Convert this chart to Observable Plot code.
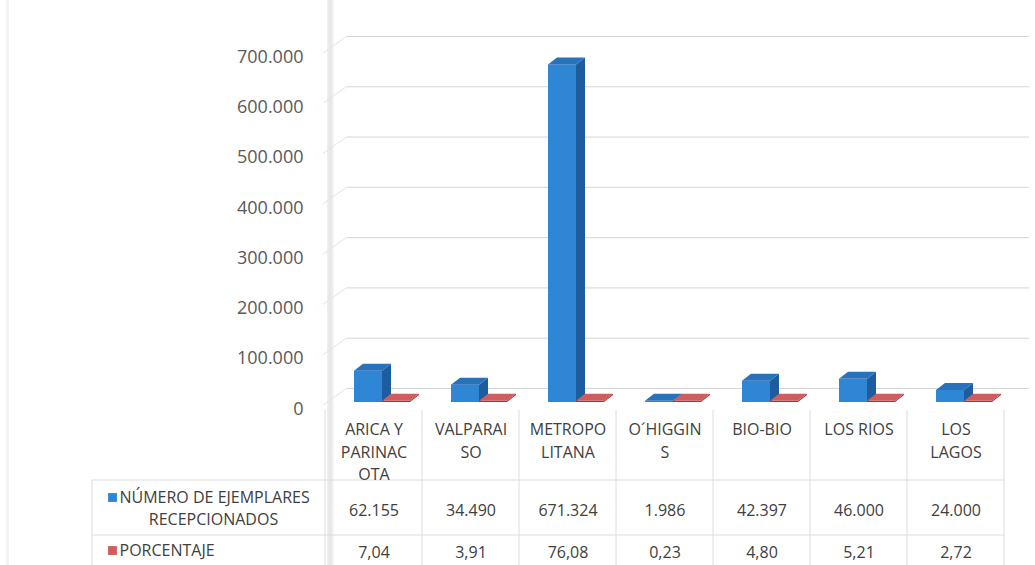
<!DOCTYPE html>
<html><head><meta charset="utf-8">
<script src="https://cdn.jsdelivr.net/npm/d3@7"></script>
<script src="https://cdn.jsdelivr.net/npm/@observablehq/plot@0.6"></script>
<style>
html,body{margin:0;padding:0;background:#fff;}
#chart{position:relative;width:1035px;height:565px;overflow:hidden;
background:linear-gradient(to right, transparent 6px, #f3f3f3 6px, #f3f3f3 9px, transparent 9px, transparent 327px, #f0f0f0 327px, #e6e6e6 330px, #f0f0f0 333px, transparent 334px);}
</style></head><body><div id="chart"></div>
<script>
// ---- data ----
const regiones = ["ARICA Y PARINACOTA","VALPARAISO","METROPOLITANA","O´HIGGINS","BIO-BIO","LOS RIOS","LOS LAGOS"];
const etiquetas = ["ARICA Y\nPARINAC\nOTA","VALPARAI\nSO","METROPO\nLITANA","O´HIGGIN\nS","BIO-BIO","LOS RIOS","LOS\nLAGOS"];
const ejemplares = [62155,34490,671324,1986,42397,46000,24000];
const porcentaje = [7.04,3.91,76.08,0.23,4.80,5.21,2.72];
const series = ["NÚMERO DE EJEMPLARES", "RECEPCIONADOS", "PORCENTAJE"];
const yTicks = [0,100000,200000,300000,400000,500000,600000,700000];

const loc = d3.formatLocale({decimal:",", thousands:".", grouping:[3], currency:["$",""]});
const fmtInt = loc.format(",d");
const fmtPct = loc.format(",.2f");

const BLUE = {front:"#2e86d5", side:"#1d5c9e", top:"#2871bb"};
const RED  = {front:"#9c3a3a", side:"#8f3434", top:"#cf5d60"};
const FONT = "'Open Sans', sans-serif";
const TXT = "#404040";

// 3D geometry (pixels)
const DX = 9, DY = -7;
function bars3d(values, off, w, col){
  return (index, scales, vals, dim) => {
    const g = d3.create("svg:g");
    regiones.forEach((c,i)=>{
      const x0 = scales.x(c) + off, x1 = x0 + w;
      const yb = scales.y(0), yt = scales.y(values[i]);
      const h = Math.max(yb - yt, 1.2);
      const ytop = yb - h;
      g.append("polygon").attr("fill", col.side)
        .attr("points", [[x1,yb],[x1+DX,yb+DY],[x1+DX,ytop+DY],[x1,ytop]].join(" "));
      g.append("rect").attr("x", x0).attr("y", ytop).attr("width", w).attr("height", h).attr("fill", col.front);
      g.append("polygon").attr("fill", col.top)
        .attr("points", [[x0,ytop],[x1,ytop],[x1+DX,ytop+DY],[x0+DX,ytop+DY]].join(" "));
    });
    return g.node();
  };
}

function tableGrid(index, scales, vals, dim){
  const g = d3.create("svg:g").attr("stroke", "#dcdcdc").attr("stroke-width", 1);
  const y0 = scales.y(0);
  const bw = scales.x(regiones[1]) - scales.x(regiones[0]);
  const edges = regiones.map(c => scales.x(c)).concat([scales.x(regiones[regiones.length-1]) + bw]);
  edges.forEach(x => g.append("line").attr("x1", x).attr("x2", x).attr("y1", y0 + 8).attr("y2", dim.height));
  g.append("line").attr("x1", 92).attr("x2", 92).attr("y1", y0 + 78).attr("y2", dim.height);
  [78, 133].forEach(o => g.append("line").attr("x1", 92).attr("x2", edges[edges.length-1]).attr("y1", y0 + o).attr("y2", y0 + o));
  return g.node();
}

function diagonals(index, scales, vals, dim){
  const g = d3.create("svg:g").attr("stroke", "#e4e4e4").attr("stroke-width", 1);
  const xl = dim.marginLeft;
  yTicks.forEach(t => {
    const y = scales.y(t);
    g.append("line").attr("x1", xl).attr("y1", y + 3).attr("x2", xl + 24).attr("y2", y - 14);
  });
  return g.node();
}

const chart = Plot.plot({
  width: 1035, height: 565,
  marginLeft: 323, marginRight: 30, marginTop: 50, marginBottom: 163,
  x: {type: "band", domain: regiones, padding: 0, axis: null},
  y: {domain: [0, 700000], axis: null},
  style: {fontFamily: FONT, background: "transparent", overflow: "visible"},
  marks: [
    Plot.ruleY(yTicks, {y: d => d, stroke: "#d6d6d6", dx: 24, dy: -14}),
    diagonals,
    Plot.text(yTicks, {y: d => d, text: d => fmtInt(d), frameAnchor: "left", textAnchor: "end", dx: -20, dy: 6.5, fontSize: 18, fill: "#595959"}),
    tableGrid,
    bars3d(ejemplares, 29, 28, BLUE),
    bars3d(porcentaje, 57, 28, RED),
    Plot.text(regiones, {x: d => d, y: () => 0, text: (d, i) => etiquetas[i], lineAnchor: "top", dy: 17, lineHeight: 1.4, fontSize: 16, fill: TXT}),
    Plot.text(regiones, {x: d => d, y: () => 0, text: (d, i) => fmtInt(ejemplares[i]), dy: 108, fontSize: 16, letterSpacing: 0.8, fill: TXT}),
    Plot.text(regiones, {x: d => d, y: () => 0, text: (d, i) => fmtPct(porcentaje[i]), dy: 150, fontSize: 16, letterSpacing: 0.8, fill: TXT}),
    Plot.dot([series[0]], {y: () => 0, frameAnchor: "left", dx: -211, dy: 95, symbol: "square", r: 5, fill: BLUE.front}),
    Plot.dot([series[2]], {y: () => 0, frameAnchor: "left", dx: -211, dy: 148, symbol: "square", r: 5, fill: RED.top}),
    Plot.text([series[0]], {y: () => 0, text: d => d, frameAnchor: "left", textAnchor: "start", dx: -204, dy: 95, fontSize: 16, fill: TXT}),
    Plot.text([series[1]], {y: () => 0, text: d => d, frameAnchor: "left", textAnchor: "middle", dx: -110, dy: 117, fontSize: 16, fill: TXT}),
    Plot.text([series[2]], {y: () => 0, text: d => d, frameAnchor: "left", textAnchor: "start", dx: -204, dy: 148, fontSize: 16, fill: TXT})
  ]
});
document.getElementById("chart").append(chart);
</script>
</body></html>
